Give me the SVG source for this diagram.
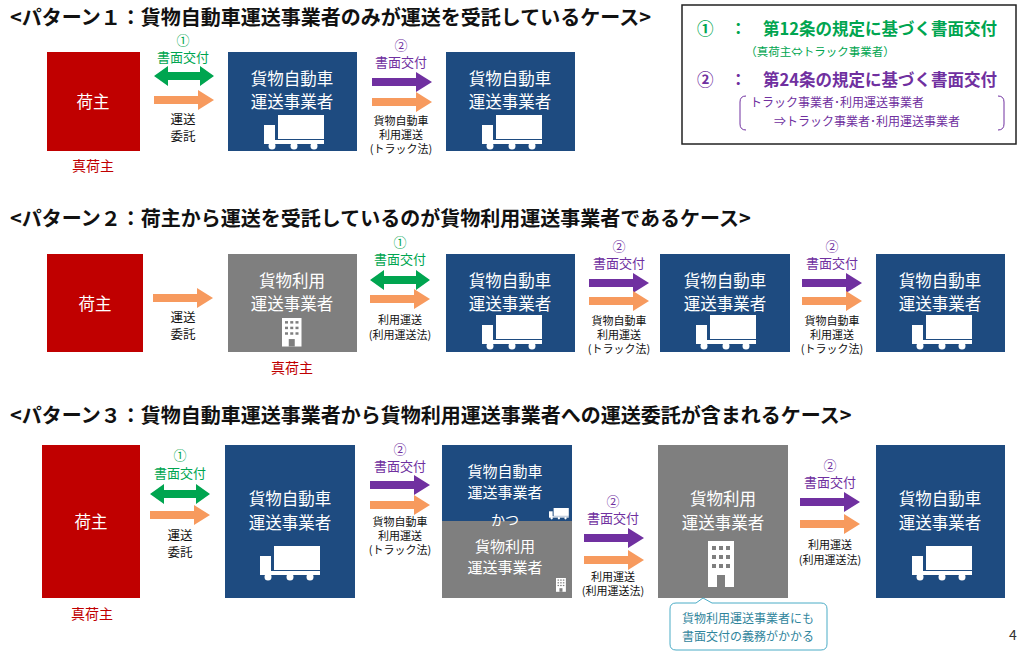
<svg xmlns="http://www.w3.org/2000/svg" xmlns:xlink="http://www.w3.org/1999/xlink" width="1024" height="658" viewBox="0 0 1024 658">
<style>
text{font-family:"Noto Sans CJK JP","Noto Sans CJK SC",sans-serif;text-anchor:middle}
.ttl{font-size:20px;font-weight:bold;text-anchor:start;fill:#111}
.bx{font-size:16.5px;fill:#fff}
.sm{font-size:11px;fill:#111}
.lb{font-size:12.5px;fill:#111}
.g{fill:#00A550;font-size:13px}
.p{fill:#7030A0;font-size:13px}
.red{fill:#C00000;font-size:14px}
.blue{fill:#1E4B80}.gray{fill:#7F7F7F}.rbox{fill:#C00000}
</style>
<defs>
<path id="ra" d="M0,-4H44V-10L60,0L44,10V4H0Z"/>
<path id="da" d="M0,0L14,-10V-4H46V-10L60,0L46,10V4H14V10Z"/>
<g id="truck"><rect x="14" y="0" width="46" height="24" fill="#fff"/><path d="M0,10H11V28H0Z" fill="#fff"/><rect x="0" y="25" width="60" height="4" fill="#fff"/><circle cx="8" cy="31" r="3.5" fill="#fff"/><circle cx="30" cy="31" r="3.5" fill="#fff"/><circle cx="50" cy="31" r="3.5" fill="#fff"/></g>
<g id="bld"><rect x="0" y="0" width="26" height="46" fill="#fff"/><g fill="#7F7F7F"><rect x="4" y="5" width="4" height="4"/><rect x="11" y="5" width="4" height="4"/><rect x="18" y="5" width="4" height="4"/><rect x="4" y="14" width="4" height="4"/><rect x="11" y="14" width="4" height="4"/><rect x="18" y="14" width="4" height="4"/><rect x="4" y="23" width="4" height="4"/><rect x="11" y="23" width="4" height="4"/><rect x="18" y="23" width="4" height="4"/><rect x="9" y="34" width="8" height="12"/></g></g>
</defs>
<rect width="1024" height="658" fill="#fff"/>
<text class="ttl" x="10" y="25">&lt;パターン１：貨物自動車運送事業者のみが運送を受託しているケース&gt;</text>
<text class="ttl" x="10" y="226">&lt;パターン２：荷主から運送を受託しているのが貨物利用運送事業者であるケース&gt;</text>
<text class="ttl" x="10" y="423">&lt;パターン３：貨物自動車運送事業者から貨物利用運送事業者への運送委託が含まれるケース&gt;</text>

<g id="legend">
<rect x="682" y="5" width="334" height="139" fill="#fff" stroke="#222" stroke-width="1.5"/>
<text x="697" y="35" style="text-anchor:start;font-size:16.5px;font-weight:bold;fill:#00A550">①　：　第12条の規定に基づく書面交付</text>
<text x="820" y="56" style="font-size:11.5px;fill:#00A550">（真荷主⇔トラック事業者）</text>
<text x="697" y="86" style="text-anchor:start;font-size:16.5px;font-weight:bold;fill:#7030A0">②　：　第24条の規定に基づく書面交付</text>
<path d="M746,96Q740,96 740,102V124Q740,130 746,130M998,96Q1004,96 1004,102V124Q1004,130 998,130" fill="none" stroke="#7030A0"/>
<text x="750" y="107" style="text-anchor:start;font-size:12px;fill:#7030A0">トラック事業者･利用運送事業者</text>
<text x="774" y="126" style="text-anchor:start;font-size:12px;fill:#7030A0">⇒トラック事業者･利用運送事業者</text>
</g>

<!-- Pattern 1 -->
<g id="p1n1"><rect class="rbox" x="47" y="52" width="93" height="99"/><text class="bx" x="93" y="108">荷主</text><text class="red" x="93" y="171">真荷主</text></g>
<g id="p1n2"><rect class="blue" x="228" y="52" width="129" height="99"/><text class="bx" x="292" y="85">貨物自動車</text><text class="bx" x="292" y="108">運送事業者</text><use href="#truck" x="264" y="115"/></g>
<g id="p1n3"><rect class="blue" x="446" y="52" width="129" height="99"/><text class="bx" x="510" y="85">貨物自動車</text><text class="bx" x="510" y="108">運送事業者</text><use href="#truck" x="482" y="115"/></g>

<!-- Pattern 2 -->
<g id="p2n1"><rect class="rbox" x="47" y="254" width="96" height="98"/><text class="bx" x="95" y="310">荷主</text></g>
<g id="p2n2"><rect class="gray" x="228" y="254" width="129" height="98"/><text class="bx" x="292" y="287">貨物利用</text><text class="bx" x="292" y="310">運送事業者</text><use href="#bld" transform="translate(282,318) scale(0.75,0.62)"/><text class="red" x="292" y="373">真荷主</text></g>
<g id="p2n3"><rect class="blue" x="446" y="254" width="129" height="98"/><text class="bx" x="510" y="287">貨物自動車</text><text class="bx" x="510" y="310">運送事業者</text><use href="#truck" x="482" y="315"/></g>
<g id="p2n4"><rect class="blue" x="660" y="254" width="130" height="98"/><text class="bx" x="725" y="287">貨物自動車</text><text class="bx" x="725" y="310">運送事業者</text><use href="#truck" x="696" y="315"/></g>
<g id="p2n5"><rect class="blue" x="876" y="254" width="129" height="98"/><text class="bx" x="940" y="287">貨物自動車</text><text class="bx" x="940" y="310">運送事業者</text><use href="#truck" x="912" y="315"/></g>

<!-- Pattern 3 -->
<g id="p3n1"><rect class="rbox" x="42" y="445" width="98" height="153"/><text class="bx" x="91" y="528">荷主</text><text class="red" x="92" y="619">真荷主</text></g>
<g id="p3n2"><rect class="blue" x="225" y="445" width="130" height="153"/><text class="bx" x="290" y="505">貨物自動車</text><text class="bx" x="290" y="529">運送事業者</text><use href="#truck" x="260" y="546"/></g>
<g id="p3n3"><rect class="blue" x="442" y="445" width="130" height="76"/><rect class="gray" x="442" y="521" width="130" height="77"/><text class="bx" x="505" y="477" style="font-size:15px">貨物自動車</text><text class="bx" x="505" y="498" style="font-size:15px">運送事業者</text><text class="bx" x="505" y="525" style="font-size:14px">かつ</text><text class="bx" x="505" y="552" style="font-size:15px">貨物利用</text><text class="bx" x="505" y="573" style="font-size:15px">運送事業者</text><use href="#truck" transform="translate(549,508) scale(0.33)"/><use href="#bld" transform="translate(556,578) scale(0.38,0.3)"/></g>
<g id="p3n4"><rect class="gray" x="658" y="445" width="130" height="153"/><text class="bx" x="723" y="505">貨物利用</text><text class="bx" x="723" y="529">運送事業者</text><use href="#bld" x="708" y="541"/></g>
<g id="p3n5"><rect class="blue" x="876" y="445" width="129" height="153"/><text class="bx" x="940" y="505">貨物自動車</text><text class="bx" x="940" y="529">運送事業者</text><use href="#truck" x="912" y="546"/></g>
<g id="callout"><path d="M676,603H696L703,598L712,603H821Q827,603 827,609V644Q827,650 821,650H676Q670,650 670,644V609Q670,603 676,603Z" fill="#fff" stroke="#4BACC6"/><text x="748" y="623" style="font-size:12px;fill:#31859C">貨物利用運送事業者にも</text><text x="748" y="641" style="font-size:12px;fill:#31859C">書面交付の義務がかかる</text></g>
<text x="1013" y="640" style="font-size:14px;fill:#333">4</text>

<g id="connectors">
<!-- P1 -->
<text class="g" x="183" y="45">①</text><text class="g" x="183" y="62">書面交付</text>
<use href="#da" x="154" y="76" fill="#00A550"/><use href="#ra" x="154" y="100" fill="#F79A5E"/>
<text class="lb" x="183" y="124">運送</text><text class="lb" x="183" y="141">委託</text>
<text class="p" x="401" y="50">②</text><text class="p" x="401" y="67">書面交付</text>
<use href="#ra" x="372" y="82" fill="#7030A0"/><use href="#ra" x="372" y="102" fill="#F79A5E"/>
<text class="sm" x="401" y="125">貨物自動車</text><text class="sm" x="401" y="139">利用運送</text><text class="sm" x="401" y="153">(トラック法)</text>
<!-- P2 -->
<use href="#ra" x="153" y="298" fill="#F79A5E"/>
<text class="lb" x="183" y="322">運送</text><text class="lb" x="183" y="339">委託</text>
<text class="g" x="400" y="247">①</text><text class="g" x="400" y="264">書面交付</text>
<use href="#da" x="370" y="280" fill="#00A550"/><use href="#ra" x="370" y="299" fill="#F79A5E"/>
<text class="sm" x="400" y="324">利用運送</text><text class="sm" x="400" y="339">(利用運送法)</text>
<text class="p" x="619" y="251">②</text><text class="p" x="619" y="268">書面交付</text>
<use href="#ra" x="589" y="283" fill="#7030A0"/><use href="#ra" x="589" y="301" fill="#F79A5E"/>
<text class="sm" x="619" y="325">貨物自動車</text><text class="sm" x="619" y="339">利用運送</text><text class="sm" x="619" y="353">(トラック法)</text>
<text class="p" x="832" y="251">②</text><text class="p" x="832" y="268">書面交付</text>
<use href="#ra" x="802" y="283" fill="#7030A0"/><use href="#ra" x="802" y="301" fill="#F79A5E"/>
<text class="sm" x="832" y="325">貨物自動車</text><text class="sm" x="832" y="339">利用運送</text><text class="sm" x="832" y="353">(トラック法)</text>
<!-- P3 -->
<text class="g" x="180" y="460">①</text><text class="g" x="180" y="478">書面交付</text>
<use href="#da" x="150" y="494" fill="#00A550"/><use href="#ra" x="150" y="515" fill="#F79A5E"/>
<text class="lb" x="180" y="540">運送</text><text class="lb" x="180" y="557">委託</text>
<text class="p" x="400" y="454">②</text><text class="p" x="400" y="471">書面交付</text>
<use href="#ra" x="370" y="485" fill="#7030A0"/><use href="#ra" x="370" y="505" fill="#F79A5E"/>
<text class="sm" x="400" y="526">貨物自動車</text><text class="sm" x="400" y="540">利用運送</text><text class="sm" x="400" y="554">(トラック法)</text>
<text class="p" x="613" y="506">②</text><text class="p" x="613" y="523">書面交付</text>
<use href="#ra" x="584" y="538" fill="#7030A0"/><use href="#ra" x="584" y="560" fill="#F79A5E"/>
<text class="sm" x="613" y="581">利用運送</text><text class="sm" x="613" y="595">(利用運送法)</text>
<text class="p" x="830" y="470">②</text><text class="p" x="830" y="487">書面交付</text>
<use href="#ra" x="800" y="502" fill="#7030A0"/><use href="#ra" x="800" y="524" fill="#F79A5E"/>
<text class="sm" x="830" y="549">利用運送</text><text class="sm" x="830" y="564">(利用運送法)</text>
</g>
</svg>
